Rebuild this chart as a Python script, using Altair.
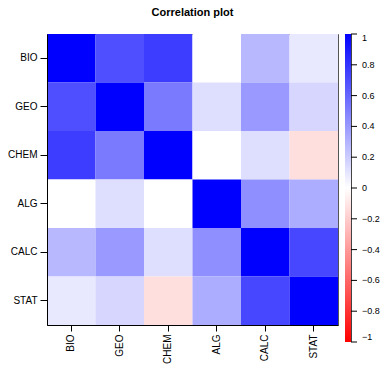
import altair as alt
import pandas as pd

variables = ["BIO", "GEO", "CHEM", "ALG", "CALC", "STAT"]

# correlation matrix (rows = y, cols = x)
bio  = [1.00, 0.69, 0.76, 0.00, 0.28, 0.09]
geo  = [0.69, 1.00, 0.52, 0.13, 0.40, 0.16]
chem = [0.76, 0.52, 1.00, 0.00, 0.13, -0.13]
alg  = [0.00, 0.13, 0.00, 1.00, 0.44, 0.32]
calc = [0.28, 0.40, 0.13, 0.44, 1.00, 0.72]
stat = [0.09, 0.16, -0.13, 0.32, 0.72, 1.00]
rows = [bio, geo, chem, alg, calc, stat]

legend_values = [1, 0.8, 0.6, 0.4, 0.2, 0, -0.2, -0.4, -0.6, -0.8, -1]

records = []
for rname, rvals in zip(variables, rows):
    for cname, v in zip(variables, rvals):
        records.append({"row": rname, "col": cname, "r": v})
df = pd.DataFrame(records)
ticks_df = pd.DataFrame({"v": legend_values})
axis_df = pd.DataFrame({"lo": [-1], "hi": [1]})

FONT = "Liberation Sans"

heat = alt.Chart(df).mark_rect().encode(
    x=alt.X("col:N", sort=variables, title=None,
            scale=alt.Scale(paddingInner=0, paddingOuter=0),
            axis=alt.Axis(labelAngle=270, tickSize=6, labelPadding=3,
                          domainColor="black", tickColor="black",
                          labelColor="black", labelFontSize=10, labelFont=FONT)),
    y=alt.Y("row:N", sort=variables, title=None,
            scale=alt.Scale(paddingInner=0, paddingOuter=0),
            axis=alt.Axis(tickSize=7, labelPadding=3,
                          domainColor="black", tickColor="black",
                          labelColor="black", labelFontSize=10, labelFont=FONT)),
    color=alt.Color("r:Q", title=None,
                    scale=alt.Scale(domain=[-1, 0, 1], range=["#ff0000", "#ffffff", "#0000ff"],
                                    interpolate="rgb"),
                    legend=alt.Legend(orient="none", legendX=298, legendY=0,
                                      direction="vertical", gradientLength=308,
                                      gradientThickness=6, gradientStrokeWidth=0,
                                      values=legend_values, format=".1~f",
                                      labelFontSize=9, labelFont=FONT, labelColor="black",
                                      labelOffset=11, labelOverlap=False)),
)

bar_scale = alt.Scale(domain=[-1, 1], range=[308, 0], nice=False, zero=False)

bar_ticks = alt.Chart(ticks_df).mark_rule(color="black", strokeWidth=1).encode(
    y=alt.Y("v:Q", axis=None, scale=bar_scale),
    x=alt.value(304),
    x2=alt.value(310),
)

bar_line = alt.Chart(axis_df).mark_rule(color="#444444", strokeWidth=1).encode(
    y=alt.Y("lo:Q", axis=None, scale=bar_scale),
    y2="hi:Q",
    x=alt.value(304.5),
)

chart = alt.layer(heat, alt.layer(bar_line, bar_ticks)).resolve_scale(y="independent").properties(
    width=291, height=291,
    title=alt.Title("Correlation plot", fontSize=11, font=FONT, fontWeight="bold",
                    color="black", anchor="middle", offset=16),
    autosize=alt.AutoSizeParams(type="none"),
    padding={"left": 47, "top": 34, "right": 45, "bottom": 41},
).configure_view(stroke="#555555", strokeWidth=1).configure_axis(grid=False)

chart.save("out.html", embed_options={"renderer": "svg", "actions": False})
